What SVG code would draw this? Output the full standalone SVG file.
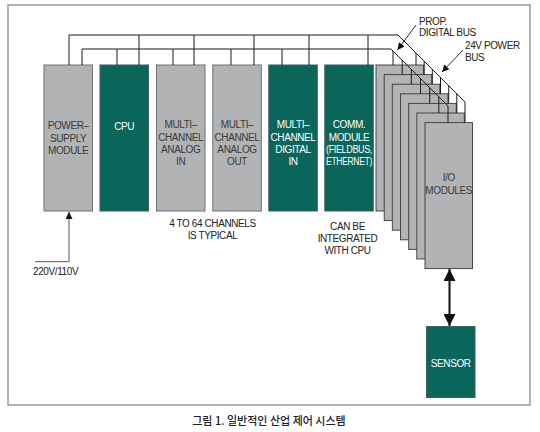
<svg xmlns="http://www.w3.org/2000/svg" width="540" height="432" viewBox="0 0 540 432">
<style>
  .gray{fill:#b1b3b5;stroke:#6e7072;stroke-width:1}
  .green{fill:#0a655b;stroke:#3f5f5a;stroke-width:1}
  .io{fill:#b1b3b5;stroke:#3a3a3a;stroke-width:0.9}
  .t{font-family:"Liberation Sans",Arial,sans-serif;font-size:10px;text-anchor:middle;letter-spacing:-0.4px}
  .tg{fill:#3a3a3a}
  .tw{fill:#ffffff}
  .lbl{font-family:"Liberation Sans",Arial,sans-serif;font-size:10px;fill:#222;letter-spacing:-0.4px}
  .bus{fill:none;stroke:#1a1a1a;stroke-width:1}
</style>
<defs>
  <marker id="ah" viewBox="0 0 10 10" refX="10" refY="5" markerWidth="8" markerHeight="7" markerUnits="userSpaceOnUse" orient="auto">
    <path d="M0,0 L10,5 L0,10 z" fill="#111"/>
  </marker>
  <marker id="big" viewBox="0 0 10 10" refX="10" refY="5" markerWidth="20" markerHeight="12" markerUnits="userSpaceOnUse" orient="auto-start-reverse">
    <path d="M0,0 L10,5 L0,10 z" fill="#111"/>
  </marker>
</defs>
<rect x="8" y="5" width="522" height="400" fill="#fff" stroke="#9a9a9a" stroke-width="1.5"/>

<g id="power-supply">
  <rect class="gray" x="44" y="65" width="48.5" height="146"/>
  <text class="t tg" x="68.2" y="129">POWER–</text>
  <text class="t tg" x="68.2" y="141.5">SUPPLY</text>
  <text class="t tg" x="68.2" y="154">MODULE</text>
</g>
<g id="cpu">
  <rect class="green" x="100" y="65" width="48.5" height="146"/>
  <text class="t tw" x="124.2" y="130">CPU</text>
</g>
<g id="analog-in">
  <rect class="gray" x="156.5" y="65" width="48.5" height="146"/>
  <text class="t tg" x="180.7" y="128">MULTI–</text>
  <text class="t tg" x="180.7" y="140.5">CHANNEL</text>
  <text class="t tg" x="180.7" y="153">ANALOG</text>
  <text class="t tg" x="180.7" y="165">IN</text>
</g>
<g id="analog-out">
  <rect class="gray" x="212.8" y="65" width="48.5" height="146"/>
  <text class="t tg" x="237" y="128">MULTI–</text>
  <text class="t tg" x="237" y="140.5">CHANNEL</text>
  <text class="t tg" x="237" y="153">ANALOG</text>
  <text class="t tg" x="237" y="165">OUT</text>
</g>
<g id="digital-in">
  <rect class="green" x="268.8" y="65" width="48.5" height="146"/>
  <text class="t tw" x="293" y="128">MULTI–</text>
  <text class="t tw" x="293" y="140.5">CHANNEL</text>
  <text class="t tw" x="293" y="153">DIGITAL</text>
  <text class="t tw" x="293" y="165">IN</text>
</g>
<g id="comm-module">
  <rect class="green" x="324.8" y="65" width="48.5" height="146"/>
  <text class="t tw" x="349" y="128">COMM.</text>
  <text class="t tw" x="349" y="140.5">MODULE</text>
  <text class="t tw" x="349" y="153" textLength="46" lengthAdjust="spacingAndGlyphs">(FIELDBUS,</text>
  <text class="t tw" x="349" y="165" textLength="46" lengthAdjust="spacingAndGlyphs">ETHERNET)</text>
</g>
<g id="io-modules">
  <rect class="io" x="376" y="65" width="47.5" height="146"/>
  <rect class="io" x="384.2" y="74.6" width="47.5" height="146"/>
  <rect class="io" x="392.3" y="84.2" width="47.5" height="146"/>
  <rect class="io" x="400.5" y="93.8" width="47.5" height="146"/>
  <rect class="io" x="408.7" y="103.4" width="47.5" height="146"/>
  <rect class="io" x="416.8" y="113" width="47.5" height="146"/>
  <rect class="io" x="425" y="122.6" width="47.5" height="146"/>
  <text class="t tg" x="448.7" y="181">I/O</text>
  <text class="t tg" x="448.7" y="193.5">MODULES</text>
</g>
<g id="sensor">
  <rect class="green" x="426.5" y="326.5" width="48.5" height="71"/>
  <text class="t tw" x="450.7" y="367">SENSOR</text>
</g>

<g id="connectors">
  <path class="bus" d="M69,65 V35 H398 L465,102 V122.6"/>
  <path class="bus" d="M139,35 V65 M194,35 V65 M254,35 V65 M309,35 V65 M368,35 V65"/>
  <path class="bus" d="M416,53 V65 M424.2,61.2 V74.6 M432.3,69.3 V84.2 M440.5,77.5 V93.8 M448.7,85.7 V103.4 M456.8,93.8 V113"/>
  <path class="bus" d="M82,65 V49 H391 L448,106 V122.6"/>
  <path class="bus" d="M117,49 V65 M173,49 V65 M231,49 V65 M282,49 V65"/>
  <path class="bus" d="M393,51 V65 M402.2,60.2 V74.6 M411.3,69.3 V84.2 M420.5,78.5 V93.8 M429.7,87.7 V103.4 M438.8,96.8 V113"/>
  <path d="M35,261.7 H69 V212" fill="none" stroke="#555" stroke-width="1" marker-end="url(#ah)"/>
  <line x1="449.5" y1="269" x2="449.5" y2="326" stroke="#111" stroke-width="2" marker-start="url(#big)" marker-end="url(#big)"/>
  <line x1="416" y1="25" x2="397.5" y2="50" stroke="#111" stroke-width="0.9" marker-end="url(#ah)"/>
  <line x1="463" y1="50" x2="442" y2="72" stroke="#111" stroke-width="0.9" marker-end="url(#ah)"/>
</g>

<g id="labels">
  <text class="lbl" x="419" y="25">PROP.</text>
  <text class="lbl" x="419" y="36">DIGITAL BUS</text>
  <text class="lbl" x="465" y="49">24V POWER</text>
  <text class="lbl" x="465" y="61">BUS</text>
  <text class="lbl" x="33" y="275">220V/110V</text>
  <text class="lbl" x="212.5" y="227" text-anchor="middle">4 TO 64 CHANNELS</text>
  <text class="lbl" x="212.5" y="239" text-anchor="middle">IS TYPICAL</text>
  <text class="lbl" x="347.5" y="230" text-anchor="middle">CAN BE</text>
  <text class="lbl" x="347.5" y="242" text-anchor="middle">INTEGRATED</text>
  <text class="lbl" x="347.5" y="254" text-anchor="middle">WITH CPU</text>
  <text x="269" y="425" text-anchor="middle" font-family="'Noto Sans CJK KR','Noto Sans',sans-serif" font-size="11" font-weight="500" fill="#222">그림 1. 일반적인 산업 제어 시스템</text>
</g>
</svg>
